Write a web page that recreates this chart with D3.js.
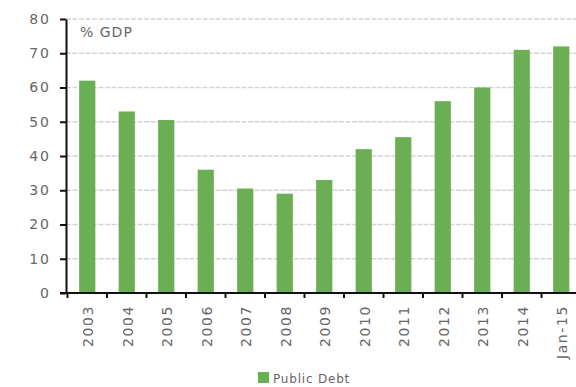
<!DOCTYPE html>
<html><head><meta charset="utf-8">
<script src="https://cdn.jsdelivr.net/npm/d3@7"></script>
<style>body{margin:0;background:#fff;}svg{display:block;}</style>
</head><body>
<script>
const categories = ["2003","2004","2005","2006","2007","2008","2009","2010","2011","2012","2013","2014","Jan-15"];
const publicDebt = [62, 53, 50.5, 36, 30.5, 29, 33, 42, 45.5, 56, 60, 71, 72];
const yTicks = [0,10,20,30,40,50,60,70,80];
const seriesName = "Public Debt";
const unitLabel = "% GDP";

const W = 576, H = 387;
const svg = d3.select("body").append("svg").attr("width", W).attr("height", H);
const font = "'DejaVu Sans', Verdana, sans-serif";
const x = d3.scaleBand().domain(categories).range([67.5, 581]).paddingInner(0.59).paddingOuter(0.295);
const y = d3.scaleLinear().domain([0, 80]).range([293, 19]);

// grid
svg.append("g").selectAll("line").data(yTicks.filter(d => d > 0)).join("line")
  .attr("x1", 66).attr("x2", W).attr("y1", d => y(d)).attr("y2", d => y(d))
  .attr("stroke", "#d4d4d4").attr("stroke-width", 1.3).attr("stroke-dasharray", "5,1.5");

// bars
svg.append("g").selectAll("rect").data(categories).join("rect")
  .attr("x", (d) => x(d)).attr("width", x.bandwidth())
  .attr("y", (d, i) => y(publicDebt[i])).attr("height", (d, i) => y(0) - y(publicDebt[i]))
  .attr("fill", "#6aaf53");

// y axis
const ya = svg.append("g").attr("transform", "translate(66,0)")
  .call(d3.axisLeft(y).tickValues(yTicks).tickSize(6).tickSizeOuter(0).tickPadding(9));
ya.select(".domain").attr("stroke", "#111").attr("stroke-width", 2);
ya.selectAll(".tick line").attr("stroke", "#111").attr("stroke-width", 2);
ya.selectAll(".tick text").attr("font-family", font).attr("font-size", 14)
  .attr("fill", "#666").attr("letter-spacing", "2px");

// x axis
const xb = d3.scaleLinear().domain([0, categories.length]).range([67.5, 581]);
svg.append("line").attr("x1", 60).attr("x2", W).attr("y1", y(0)).attr("y2", y(0))
  .attr("stroke", "#111").attr("stroke-width", 2);
svg.append("g").selectAll("line").data(d3.range(categories.length + 1)).join("line")
  .attr("x1", d => xb(d)).attr("x2", d => xb(d)).attr("y1", y(0)).attr("y2", y(0) + 5)
  .attr("stroke", "#111").attr("stroke-width", 2);
svg.append("g").selectAll("text").data(categories).join("text")
  .attr("transform", d => `translate(${x(d) + x.bandwidth() / 2 + 6},305) rotate(-90)`)
  .attr("text-anchor", "end").attr("font-family", font).attr("font-size", 14)
  .attr("letter-spacing", "1.6px").attr("fill", "#666").text(d => d);

// unit label
svg.append("text").attr("x", 80).attr("y", 37).attr("font-family", font).attr("font-size", 14)
  .attr("letter-spacing", "1px").attr("fill", "#666").text(unitLabel);

// legend
svg.append("rect").attr("x", 258).attr("y", 372).attr("width", 11).attr("height", 11).attr("fill", "#6aaf53");
svg.append("text").attr("x", 273).attr("y", 383).attr("font-family", font).attr("font-size", 12)
  .attr("letter-spacing", "0.8px").attr("fill", "#666").text(seriesName);
</script>
</body></html>
